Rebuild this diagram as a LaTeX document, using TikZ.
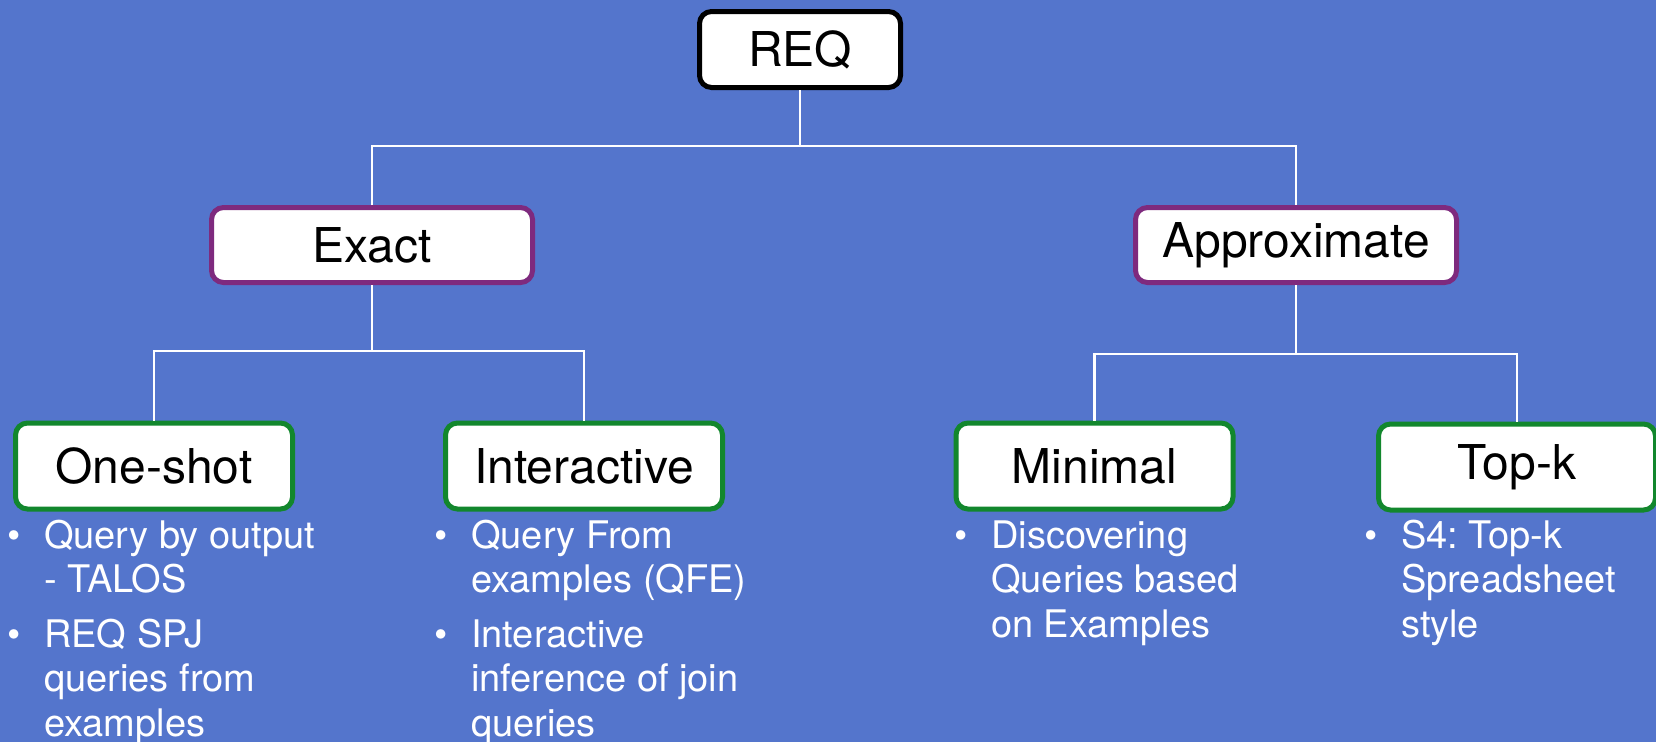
\documentclass[tikz,border=0pt]{standalone}
\usepackage{fontspec}
\setmainfont{TeX Gyre Heros}
\frenchspacing
\definecolor{bgblue}{RGB}{84,117,204}
\definecolor{boxpurple}{RGB}{126,42,126}
\definecolor{boxgreen}{RGB}{18,135,45}
\newcommand{\bul}{\makebox[37pt][l]{\textbullet}}
\begin{document}
\begin{tikzpicture}[x=1pt,y=-1pt,
  box/.style={draw, fill=white, rounded corners=12pt, line width=5pt,
    minimum width=277pt, minimum height=86pt, inner sep=0pt,
    font=\fontsize{48}{52}\selectfont, text=black},
  list/.style={anchor=north west, inner sep=0pt, text=white,
    font=\fontsize{38}{44.5}\selectfont},
  conn/.style={draw=white, line width=2.5pt}]
\fill[bgblue] (0,0) rectangle (1656,742);
\useasboundingbox (0,0) rectangle (1656,742);

\node[box, draw=black, minimum width=201pt, minimum height=76pt] (req) at (800,49.5) {REQ};
\node[box, draw=boxpurple, minimum width=321pt, minimum height=75pt] (exact) at (372,245) {Exact};
\node[box, draw=boxpurple, minimum width=321pt, minimum height=75pt] (approx) at (1296,245) {Approximate};
\node[box, draw=boxgreen] (oneshot) at (154,466) {One-shot};
\node[box, draw=boxgreen] (inter) at (584,466) {Interactive};
\node[box, draw=boxgreen] (minimal) at (1094.5,466) {Minimal};
\node[box, draw=boxgreen] (topk) at (1517,467) {Top-k};

\coordinate (j1) at (800,146);
\coordinate (j2) at (372,351);
\coordinate (j3) at (1296,354);
\draw[conn] (req.south) -- (j1);
\draw[conn] (exact.north) |- (j1) -| (approx.north);
\draw[conn] (exact.south) -- (j2);
\draw[conn] (oneshot.north) |- (j2) -| (inter.north);
\draw[conn] (approx.south) -- (j3);
\draw[conn] (minimal.north) |- (j3) -| (topk.north);

\node[list] (l1) at (7,517) {\begin{tabular}{@{}l@{}l@{}}
\bul & Query by output\\
 & - TALOS\\[10pt]
\bul & REQ SPJ\\
 & queries from\\
 & examples
\end{tabular}};
\node[list] (l2) at (434,517) {\begin{tabular}{@{}l@{}l@{}}
\bul & Query From\\
 & examples (QFE)\\[10pt]
\bul & Interactive\\
 & inference of join\\
 & queries
\end{tabular}};
\node[list] (l3) at (954,517) {\begin{tabular}{@{}l@{}l@{}}
\bul & Discovering\\
 & Queries based\\
 & on Examples
\end{tabular}};
\node[list] (l4) at (1364,517) {\begin{tabular}{@{}l@{}l@{}}
\bul & S4: Top-k\\
 & Spreadsheet\\
 & style
\end{tabular}};
\end{tikzpicture}
\end{document}
